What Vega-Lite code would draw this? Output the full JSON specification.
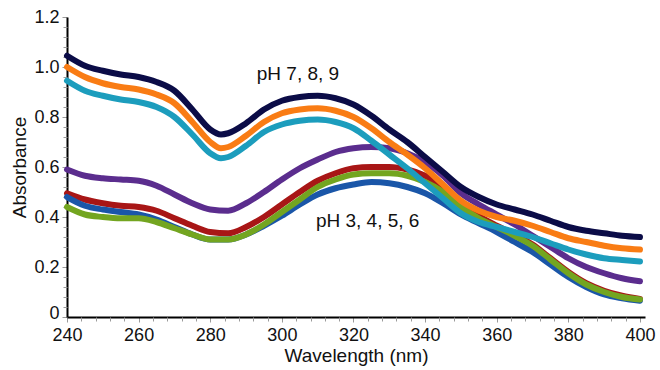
{
  "$schema": "https://vega.github.io/schema/vega-lite/v6.json",
  "width": 578,
  "height": 300,
  "autosize": {"type": "none"},
  "padding": {"left": 67, "top": 17, "right": 15, "bottom": 53},
  "background": "white",
  "config": {
    "view": {"stroke": null},
    "font": "Liberation Sans",
    "axis": {"grid": false, "domainColor": "#000000", "domainWidth": 2, "labelFont": "Liberation Sans", "titleFont": "Liberation Sans", "labelColor": "#111111", "titleColor": "#111111", "titleFontWeight": "normal", "labelFontSize": 18, "titleFontSize": 19, "tickColor": "#9a9a9a", "tickWidth": 1, "tickSize": 5}
  },
  "resolve": {"axis": {"x": "independent", "y": "independent"}},
  "layer": [
    {
      "data": {"values": [
        {"s":"purple","x":240,"y":0.59},{"s":"purple","x":245,"y":0.565},{"s":"purple","x":250,"y":0.555},{"s":"purple","x":255,"y":0.55},{"s":"purple","x":260,"y":0.545},{"s":"purple","x":265,"y":0.525},{"s":"purple","x":270,"y":0.49},{"s":"purple","x":275,"y":0.455},{"s":"purple","x":280,"y":0.43},{"s":"purple","x":285,"y":0.425},{"s":"purple","x":290,"y":0.455},{"s":"purple","x":295,"y":0.5},{"s":"purple","x":300,"y":0.55},{"s":"purple","x":305,"y":0.595},{"s":"purple","x":310,"y":0.63},{"s":"purple","x":315,"y":0.66},{"s":"purple","x":320,"y":0.675},{"s":"purple","x":325,"y":0.68},{"s":"purple","x":330,"y":0.675},{"s":"purple","x":335,"y":0.655},{"s":"purple","x":340,"y":0.62},{"s":"purple","x":345,"y":0.565},{"s":"purple","x":350,"y":0.495},{"s":"purple","x":355,"y":0.45},{"s":"purple","x":360,"y":0.41},{"s":"purple","x":365,"y":0.37},{"s":"purple","x":370,"y":0.325},{"s":"purple","x":375,"y":0.28},{"s":"purple","x":380,"y":0.235},{"s":"purple","x":385,"y":0.2},{"s":"purple","x":390,"y":0.175},{"s":"purple","x":395,"y":0.155},{"s":"purple","x":400,"y":0.143},
        {"s":"red","x":240,"y":0.495},{"s":"red","x":245,"y":0.47},{"s":"red","x":250,"y":0.455},{"s":"red","x":255,"y":0.445},{"s":"red","x":260,"y":0.44},{"s":"red","x":265,"y":0.425},{"s":"red","x":270,"y":0.395},{"s":"red","x":275,"y":0.365},{"s":"red","x":280,"y":0.34},{"s":"red","x":285,"y":0.335},{"s":"red","x":290,"y":0.36},{"s":"red","x":295,"y":0.4},{"s":"red","x":300,"y":0.45},{"s":"red","x":305,"y":0.5},{"s":"red","x":310,"y":0.545},{"s":"red","x":315,"y":0.575},{"s":"red","x":320,"y":0.595},{"s":"red","x":325,"y":0.6},{"s":"red","x":330,"y":0.6},{"s":"red","x":335,"y":0.59},{"s":"red","x":340,"y":0.565},{"s":"red","x":345,"y":0.52},{"s":"red","x":350,"y":0.46},{"s":"red","x":355,"y":0.405},{"s":"red","x":360,"y":0.365},{"s":"red","x":365,"y":0.33},{"s":"red","x":370,"y":0.29},{"s":"red","x":375,"y":0.235},{"s":"red","x":380,"y":0.18},{"s":"red","x":385,"y":0.135},{"s":"red","x":390,"y":0.105},{"s":"red","x":395,"y":0.085},{"s":"red","x":400,"y":0.072},
        {"s":"blue","x":240,"y":0.48},{"s":"blue","x":245,"y":0.445},{"s":"blue","x":250,"y":0.43},{"s":"blue","x":255,"y":0.42},{"s":"blue","x":260,"y":0.41},{"s":"blue","x":265,"y":0.39},{"s":"blue","x":270,"y":0.36},{"s":"blue","x":275,"y":0.33},{"s":"blue","x":280,"y":0.31},{"s":"blue","x":285,"y":0.31},{"s":"blue","x":290,"y":0.33},{"s":"blue","x":295,"y":0.365},{"s":"blue","x":300,"y":0.405},{"s":"blue","x":305,"y":0.45},{"s":"blue","x":310,"y":0.49},{"s":"blue","x":315,"y":0.515},{"s":"blue","x":320,"y":0.53},{"s":"blue","x":325,"y":0.54},{"s":"blue","x":330,"y":0.535},{"s":"blue","x":335,"y":0.52},{"s":"blue","x":340,"y":0.495},{"s":"blue","x":345,"y":0.455},{"s":"blue","x":350,"y":0.41},{"s":"blue","x":355,"y":0.375},{"s":"blue","x":360,"y":0.34},{"s":"blue","x":365,"y":0.3},{"s":"blue","x":370,"y":0.26},{"s":"blue","x":375,"y":0.21},{"s":"blue","x":380,"y":0.16},{"s":"blue","x":385,"y":0.12},{"s":"blue","x":390,"y":0.09},{"s":"blue","x":395,"y":0.075},{"s":"blue","x":400,"y":0.065},
        {"s":"green","x":240,"y":0.44},{"s":"green","x":245,"y":0.41},{"s":"green","x":250,"y":0.4},{"s":"green","x":255,"y":0.395},{"s":"green","x":260,"y":0.395},{"s":"green","x":265,"y":0.38},{"s":"green","x":270,"y":0.355},{"s":"green","x":275,"y":0.33},{"s":"green","x":280,"y":0.31},{"s":"green","x":285,"y":0.31},{"s":"green","x":290,"y":0.33},{"s":"green","x":295,"y":0.37},{"s":"green","x":300,"y":0.42},{"s":"green","x":305,"y":0.47},{"s":"green","x":310,"y":0.52},{"s":"green","x":315,"y":0.55},{"s":"green","x":320,"y":0.57},{"s":"green","x":325,"y":0.575},{"s":"green","x":330,"y":0.575},{"s":"green","x":335,"y":0.565},{"s":"green","x":340,"y":0.54},{"s":"green","x":345,"y":0.5},{"s":"green","x":350,"y":0.44},{"s":"green","x":355,"y":0.395},{"s":"green","x":360,"y":0.36},{"s":"green","x":365,"y":0.325},{"s":"green","x":370,"y":0.285},{"s":"green","x":375,"y":0.23},{"s":"green","x":380,"y":0.175},{"s":"green","x":385,"y":0.13},{"s":"green","x":390,"y":0.1},{"s":"green","x":395,"y":0.08},{"s":"green","x":400,"y":0.07},
        {"s":"navy","x":240,"y":1.045},{"s":"navy","x":245,"y":1.005},{"s":"navy","x":250,"y":0.985},{"s":"navy","x":255,"y":0.97},{"s":"navy","x":260,"y":0.96},{"s":"navy","x":265,"y":0.94},{"s":"navy","x":270,"y":0.905},{"s":"navy","x":275,"y":0.83},{"s":"navy","x":280,"y":0.75},{"s":"navy","x":283,"y":0.73},{"s":"navy","x":285,"y":0.735},{"s":"navy","x":290,"y":0.775},{"s":"navy","x":295,"y":0.83},{"s":"navy","x":300,"y":0.865},{"s":"navy","x":305,"y":0.88},{"s":"navy","x":310,"y":0.885},{"s":"navy","x":315,"y":0.875},{"s":"navy","x":320,"y":0.85},{"s":"navy","x":325,"y":0.805},{"s":"navy","x":330,"y":0.75},{"s":"navy","x":335,"y":0.7},{"s":"navy","x":340,"y":0.64},{"s":"navy","x":345,"y":0.58},{"s":"navy","x":350,"y":0.52},{"s":"navy","x":355,"y":0.48},{"s":"navy","x":360,"y":0.45},{"s":"navy","x":365,"y":0.43},{"s":"navy","x":370,"y":0.41},{"s":"navy","x":375,"y":0.385},{"s":"navy","x":380,"y":0.36},{"s":"navy","x":385,"y":0.345},{"s":"navy","x":390,"y":0.335},{"s":"navy","x":395,"y":0.325},{"s":"navy","x":400,"y":0.32},
        {"s":"orange","x":240,"y":1.0},{"s":"orange","x":245,"y":0.96},{"s":"orange","x":250,"y":0.935},{"s":"orange","x":255,"y":0.92},{"s":"orange","x":260,"y":0.91},{"s":"orange","x":265,"y":0.89},{"s":"orange","x":270,"y":0.855},{"s":"orange","x":275,"y":0.78},{"s":"orange","x":280,"y":0.7},{"s":"orange","x":283,"y":0.675},{"s":"orange","x":285,"y":0.68},{"s":"orange","x":290,"y":0.725},{"s":"orange","x":295,"y":0.78},{"s":"orange","x":300,"y":0.815},{"s":"orange","x":305,"y":0.83},{"s":"orange","x":310,"y":0.835},{"s":"orange","x":315,"y":0.825},{"s":"orange","x":320,"y":0.8},{"s":"orange","x":325,"y":0.755},{"s":"orange","x":330,"y":0.7},{"s":"orange","x":335,"y":0.65},{"s":"orange","x":340,"y":0.595},{"s":"orange","x":345,"y":0.53},{"s":"orange","x":350,"y":0.465},{"s":"orange","x":355,"y":0.425},{"s":"orange","x":360,"y":0.4},{"s":"orange","x":365,"y":0.385},{"s":"orange","x":370,"y":0.365},{"s":"orange","x":375,"y":0.34},{"s":"orange","x":380,"y":0.315},{"s":"orange","x":385,"y":0.3},{"s":"orange","x":390,"y":0.285},{"s":"orange","x":395,"y":0.275},{"s":"orange","x":400,"y":0.27},
        {"s":"teal","x":240,"y":0.945},{"s":"teal","x":245,"y":0.905},{"s":"teal","x":250,"y":0.885},{"s":"teal","x":255,"y":0.87},{"s":"teal","x":260,"y":0.86},{"s":"teal","x":265,"y":0.84},{"s":"teal","x":270,"y":0.8},{"s":"teal","x":275,"y":0.73},{"s":"teal","x":280,"y":0.655},{"s":"teal","x":283,"y":0.635},{"s":"teal","x":285,"y":0.64},{"s":"teal","x":290,"y":0.685},{"s":"teal","x":295,"y":0.74},{"s":"teal","x":300,"y":0.77},{"s":"teal","x":305,"y":0.785},{"s":"teal","x":310,"y":0.79},{"s":"teal","x":315,"y":0.78},{"s":"teal","x":320,"y":0.755},{"s":"teal","x":325,"y":0.705},{"s":"teal","x":330,"y":0.65},{"s":"teal","x":335,"y":0.595},{"s":"teal","x":340,"y":0.535},{"s":"teal","x":345,"y":0.475},{"s":"teal","x":350,"y":0.415},{"s":"teal","x":355,"y":0.38},{"s":"teal","x":360,"y":0.36},{"s":"teal","x":365,"y":0.34},{"s":"teal","x":370,"y":0.32},{"s":"teal","x":375,"y":0.295},{"s":"teal","x":380,"y":0.27},{"s":"teal","x":385,"y":0.25},{"s":"teal","x":390,"y":0.235},{"s":"teal","x":395,"y":0.228},{"s":"teal","x":400,"y":0.222}
      ]},
      "mark": {"type": "line", "strokeWidth": 6, "strokeCap": "round", "strokeJoin": "round", "interpolate": "monotone"},
      "encoding": {
        "x": {"field": "x", "type": "quantitative",
          "scale": {"domain": [240, 401.4], "nice": false, "zero": false},
          "axis": {"orient": "bottom", "title": "Wavelength (nm)", "values": [240,260,280,300,320,340,360,380,400], "labelFlush": false, "labelPadding": 4, "titlePadding": 2}},
        "y": {"field": "y", "type": "quantitative",
          "scale": {"domain": [0, 1.2], "nice": false},
          "axis": {"orient": "left", "title": "Absorbance", "values": [0,0.2,0.4,0.6,0.8,1.0,1.2],
            "labelExpr": "datum.value === 0 ? '0' : format(datum.value, '.1f')", "labelFlush": false, "labelPadding": 3, "titlePadding": 4,
            "labelOffset": {"condition": {"test": "datum.value === 0", "value": -4}, "value": 0}}},
        "color": {"field": "s", "type": "nominal", "legend": null, "sort": null,
          "scale": {"domain": ["purple","red","blue","green","navy","orange","teal"], "range": ["#5b2d8e","#a81616","#1a56a8","#73a520","#0b0c47","#f97c14","#1c9dbd"]}}
      }
    },
    {
      "data": {"values": [
        {"label": "pH 7, 8, 9", "x": 293, "y": 0.972},
        {"label": "pH 3, 4, 5, 6", "x": 309.5, "y": 0.385}
      ]},
      "mark": {"type": "text", "align": "left", "baseline": "middle", "fontSize": 19, "font": "Liberation Sans", "color": "#111111"},
      "encoding": {
        "x": {"field": "x", "type": "quantitative",
          "axis": {"orient": "bottom", "title": null, "labels": false, "domain": false, "tickSize": 4,
            "values": [244,248,252,256,264,268,272,276,284,288,292,296,304,308,312,316,324,328,332,336,344,348,352,356,364,368,372,376,384,388,392,396]}},
        "y": {"field": "y", "type": "quantitative",
          "axis": {"orient": "left", "title": null, "labels": false, "domain": false, "tickSize": 4,
            "values": [0.04,0.08,0.12,0.16,0.24,0.28,0.32,0.36,0.44,0.48,0.52,0.56,0.64,0.68,0.72,0.76,0.84,0.88,0.92,0.96,1.04,1.08,1.12,1.16]}},
        "text": {"field": "label"}
      }
    }
  ]
}
